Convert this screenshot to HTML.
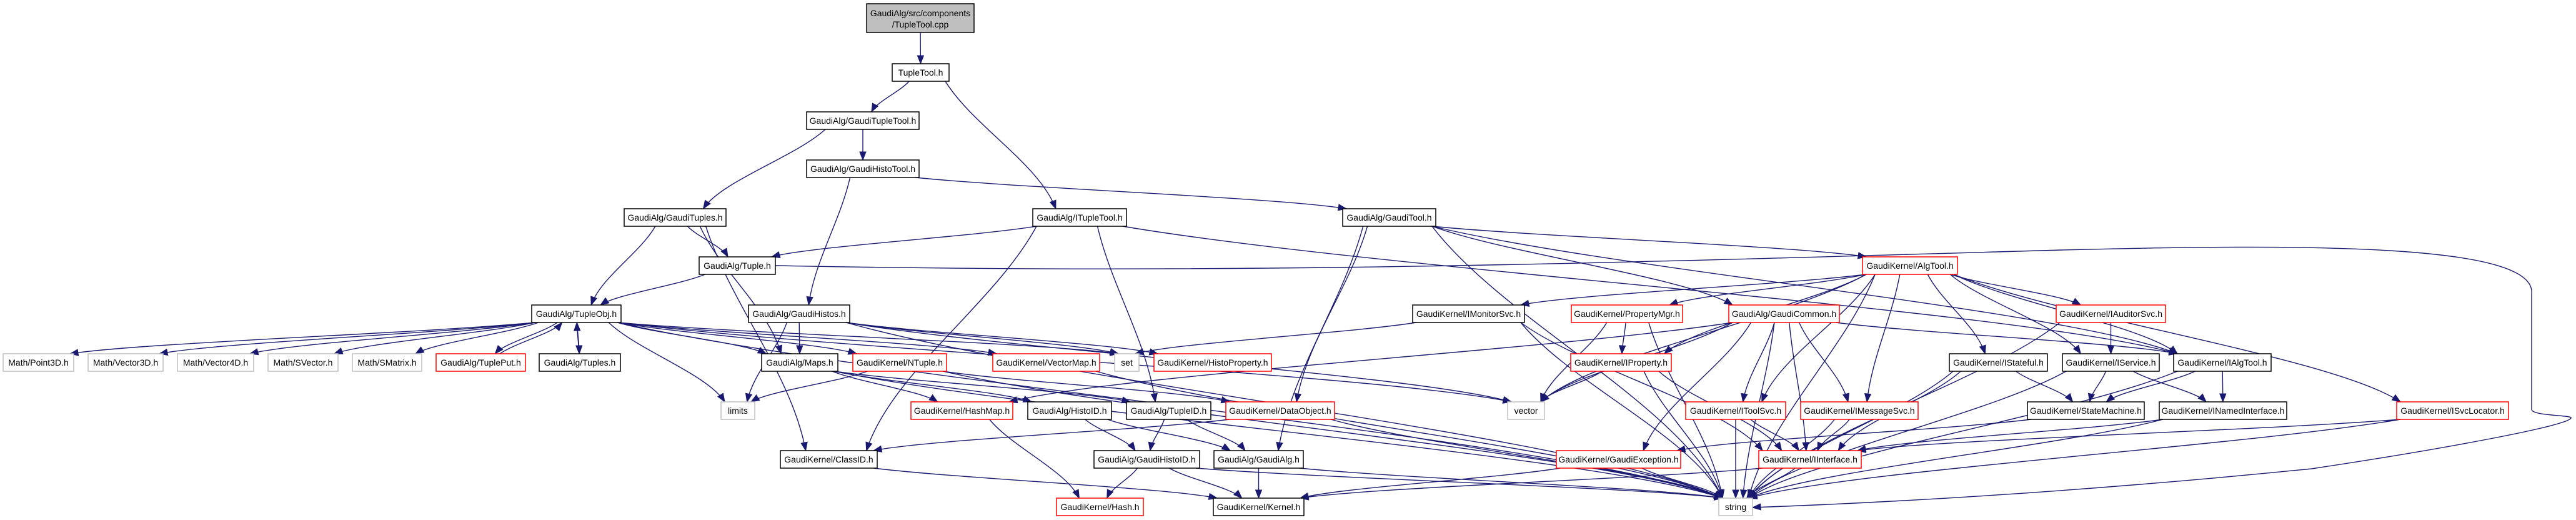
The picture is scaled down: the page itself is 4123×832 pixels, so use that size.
<!DOCTYPE html>
<html><head><meta charset="utf-8"><style>
html,body{margin:0;padding:0;background:#fff;}
svg{display:block;}
text{font-family:"Liberation Sans",sans-serif;font-size:14px;fill:#000;}
</style></head><body>
<svg id="g" width="4123" height="832" viewBox="0 0 4123 832" xmlns="http://www.w3.org/2000/svg">
<g id="edges" fill="none" stroke="#191970" stroke-width="1.4"></g>
<g id="arrows" fill="#191970" stroke="#191970" stroke-width="1"></g>
<g id="nodes">
<rect x="1387" y="6" width="172" height="46" fill="#bfbfbf" stroke="#000" stroke-width="1.5"/>
<text x="1473" y="26" text-anchor="middle">GaudiAlg/src/components</text>
<text x="1473" y="44" text-anchor="middle">/TupleTool.cpp</text>
</g>
</svg>
<script>
var R=[6,102,179,256,334,411,488,566,643,721,797];
var N={
tt:["TupleTool.h",1428,1519,1,"k"],
gtt:["GaudiAlg/GaudiTupleTool.h",1291,1471,2,"k"],
ght:["GaudiAlg/GaudiHistoTool.h",1291,1471,3,"k"],
gts:["GaudiAlg/GaudiTuples.h",999,1162,4,"k"],
itt:["GaudiAlg/ITupleTool.h",1653,1803,4,"k"],
gtool:["GaudiAlg/GaudiTool.h",2149,2298,4,"k"],
tuple:["GaudiAlg/Tuple.h",1119,1241,5,"k"],
algtool:["GaudiKernel/AlgTool.h",2981,3133,5,"r"],
tobj:["GaudiAlg/TupleObj.h",851,994,6,"k"],
ghs:["GaudiAlg/GaudiHistos.h",1198,1360,6,"k"],
imon:["GaudiKernel/IMonitorSvc.h",2261,2440,6,"k"],
pmgr:["GaudiKernel/PropertyMgr.h",2515,2693,6,"r"],
gcom:["GaudiAlg/GaudiCommon.h",2767,2944,6,"r"],
iaud:["GaudiKernel/IAuditorSvc.h",3291,3466,6,"r"],
p3d:["Math/Point3D.h",5,118,7,"g"],
v3d:["Math/Vector3D.h",141,261,7,"g"],
v4d:["Math/Vector4D.h",284,406,7,"g"],
sv:["Math/SVector.h",429,541,7,"g"],
sm:["Math/SMatrix.h",564,675,7,"g"],
tput:["GaudiAlg/TuplePut.h",698,841,7,"r"],
tuples:["GaudiAlg/Tuples.h",863,993,7,"k"],
maps:["GaudiAlg/Maps.h",1219,1341,7,"k"],
ntuple:["GaudiKernel/NTuple.h",1365,1515,7,"r"],
vmap:["GaudiKernel/VectorMap.h",1589,1760,7,"r"],
set:["set",1784,1823,7,"g"],
hprop:["GaudiKernel/HistoProperty.h",1847,2035,7,"r"],
iprop:["GaudiKernel/IProperty.h",2514,2675,7,"r"],
istat:["GaudiKernel/IStateful.h",3120,3277,7,"k"],
iserv:["GaudiKernel/IService.h",3301,3456,7,"k"],
ialg:["GaudiKernel/IAlgTool.h",3479,3635,7,"k"],
limits:["limits",1154,1208,8,"g"],
hmap:["GaudiKernel/HashMap.h",1458,1621,8,"r"],
hid:["GaudiAlg/HistoID.h",1645,1779,8,"k"],
tid:["GaudiAlg/TupleID.h",1803,1938,8,"k"],
dobj:["GaudiKernel/DataObject.h",1962,2136,8,"r"],
vector:["vector",2413,2472,8,"g"],
itsvc:["GaudiKernel/IToolSvc.h",2698,2858,8,"r"],
imsg:["GaudiKernel/IMessageSvc.h",2882,3070,8,"r"],
smach:["GaudiKernel/StateMachine.h",3245,3432,8,"k"],
inamed:["GaudiKernel/INamedInterface.h",3456,3660,8,"k"],
isvc:["GaudiKernel/ISvcLocator.h",3836,4015,8,"r"],
classid:["GaudiKernel/ClassID.h",1249,1404,9,"k"],
ghid:["GaudiAlg/GaudiHistoID.h",1751,1920,9,"k"],
galg:["GaudiAlg/GaudiAlg.h",1943,2086,9,"k"],
gexc:["GaudiKernel/GaudiException.h",2491,2690,9,"r"],
iint:["GaudiKernel/IInterface.h",2815,2979,9,"r"],
hash:["GaudiKernel/Hash.h",1691,1830,10,"r"],
kernel:["GaudiKernel/Kernel.h",1942,2087,10,"k"],
string:["string",2751,2805,10,"g"]
};
var NS="http://www.w3.org/2000/svg";
var nodes=document.getElementById("nodes"),eg=document.getElementById("edges"),ag=document.getElementById("arrows");
var P={};
for(var k in N){var n=N[k];var y=R[n[3]],h=28;
 P[k]={x1:n[1],x2:n[2],y:y,h:h,cx:(n[1]+n[2])/2};
 var r=document.createElementNS(NS,"rect");
 r.setAttribute("x",n[1]);r.setAttribute("y",y);r.setAttribute("width",n[2]-n[1]);r.setAttribute("height",h);
 r.setAttribute("fill","#fff");
 r.setAttribute("stroke",n[4]=="r"?"#ff0000":(n[4]=="g"?"#bfbfbf":"#000"));
 r.setAttribute("stroke-width","1.5");nodes.appendChild(r);
 var t=document.createElementNS(NS,"text");t.setAttribute("x",(n[1]+n[2])/2);t.setAttribute("y",y+19);
 t.setAttribute("text-anchor","middle");t.textContent=n[0];nodes.appendChild(t);}
P.cpp={x1:1387,x2:1559,y:6,h:46,cx:1473};
function cl(n,x){return Math.max(n.x1+6,Math.min(n.x2-6,x));}
function arrow(x,y,px,py){var dx=x-px,dy=y-py,l=Math.sqrt(dx*dx+dy*dy)||1;dx/=l;dy/=l;
 var bx=x-dx*13,by=y-dy*13;var p=document.createElementNS(NS,"polygon");
 p.setAttribute("points",x+","+y+" "+(bx-dy*5)+","+(by+dx*5)+" "+(bx+dy*5)+","+(by-dx*5));ag.appendChild(p);}
function path(d){var p=document.createElementNS(NS,"path");p.setAttribute("d",d);eg.appendChild(p);}
function E(a,b){var s=P[a],t=P[b];var sx,sy,ex,ey;
 if(t.y>s.y){sx=cl(s,s.cx+(t.cx-s.cx)*0.2);sy=s.y+s.h;ex=cl(t,t.cx+(s.cx-t.cx)*0.15);ey=t.y;}
 else{sx=cl(s,s.cx+(t.cx-s.cx)*0.2);sy=s.y;ex=cl(t,t.cx+(s.cx-t.cx)*0.15);ey=t.y+t.h;}
 var dy=ey-sy;var c1x=sx+(ex-sx)*0.25,c1y=sy+dy*0.35,c2x=ex-(ex-sx)*0.15,c2y=ey-dy*0.35;
 path("M"+sx+","+sy+" C"+c1x+","+c1y+" "+c2x+","+c2y+" "+ex+","+ey);arrow(ex,ey,c2x,c2y);}
var L="cpp-tt tt-gtt tt-itt gtt-gts gtt-ght ght-ghs ght-gtool gts-tobj gts-tuple gts-maps gts-classid itt-tuple itt-classid itt-tid itt-ialg gtool-algtool gtool-gcom gtool-galg gtool-dobj gtool-ialg gtool-string tuple-tobj tobj-p3d tobj-v3d tobj-v4d tobj-sv tobj-sm tobj-tput tobj-tuples tobj-limits tobj-maps tobj-ntuple tobj-vmap tobj-set tobj-vector tobj-string tput-tobj tuples-tobj ghs-limits ghs-maps ghs-set ghs-hprop ghs-vector ghs-string maps-hmap maps-hid maps-tid maps-string ntuple-limits ntuple-dobj ntuple-string vmap-string hmap-hash hid-ghid hid-galg tid-ghid tid-galg ghid-hash ghid-kernel ghid-string classid-kernel dobj-classid dobj-string galg-kernel galg-string algtool-imon algtool-pmgr algtool-iprop algtool-vector algtool-itsvc algtool-imsg algtool-istat algtool-iserv algtool-ialg algtool-iaud algtool-isvc algtool-string imon-iint imon-string imon-set pmgr-iprop pmgr-vector pmgr-string gcom-itsvc gcom-imsg gcom-vector gcom-string gcom-gexc gcom-ialg gcom-hmap gcom-iint iprop-vector iprop-string iprop-iint iaud-iserv iaud-string istat-smach istat-iint istat-string iserv-smach iserv-inamed iserv-string ialg-smach ialg-inamed ialg-string smach-gexc inamed-iint inamed-string itsvc-iint itsvc-string imsg-iint imsg-string gexc-kernel gexc-string iint-kernel iint-string isvc-iint isvc-string".split(" ");
L.forEach(function(e){var a=e.split("-");E(a[0],a[1]);});
// long loop Tuple.h -> string around right side
path("M1241,425 C2000,440 2600,420 3300,400 C3700,390 4060,390 4052,470 L4052,655 C4052,665 4110,664 4115,668 C4120,680 3900,720 3700,750 C3300,790 3000,805 2805,812");
arrow(2805,812,2830,810);
</script>
</body></html>
